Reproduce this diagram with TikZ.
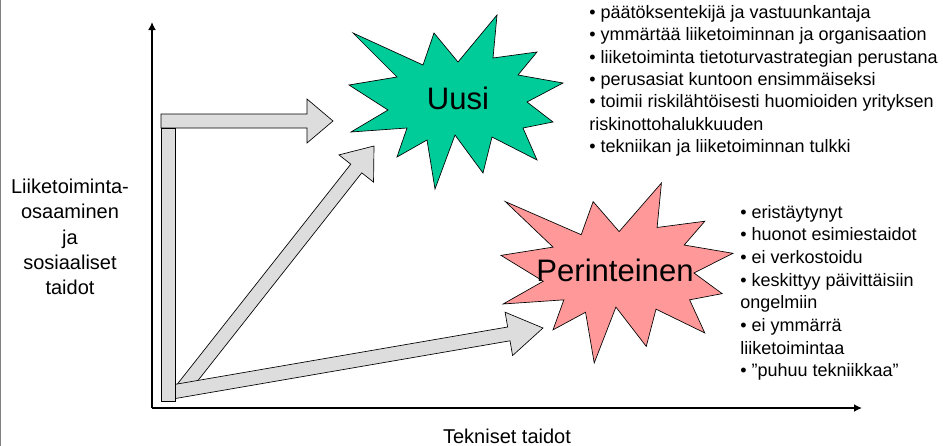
\documentclass[tikz,border=0pt]{standalone}
\usepackage{fontspec}
\setmainfont{Liberation Sans}
\usetikzlibrary{arrows.meta,calc}

\definecolor{uusigreen}{RGB}{0,204,153}
\definecolor{oldpink}{RGB}{255,153,153}
\definecolor{arrowgray}{RGB}{221,221,221}

% block arrow: name, tail, tip, head length
\newcommand{\blockarrow}[4]{%
	\coordinate (#1-base) at ($(#3)!#4!(#2)$);
	\filldraw[blockarrow] ($(#2)!5.25pt!90:(#3)$) -- ($(#1-base)!5.25pt!90:(#3)$)
	-- ($(#1-base)!16.5pt!90:(#3)$) -- (#3) -- ($(#1-base)!16.5pt!-90:(#3)$)
	-- ($(#1-base)!5.25pt!-90:(#3)$) -- ($(#2)!5.25pt!-90:(#3)$) -- cycle;}

% explosion outline, 214 x 174 box
\newcommand{\explosion}{(4,18) -- (74,50) -- (85,18) -- (109,47) -- (148,0) -- (144,43)
	-- (188,37) -- (169,60) -- (214,68) -- (178,87) -- (204,107) -- (174,113)
	-- (188,145) -- (143,122) -- (134,158) -- (106,120) -- (86,174) -- (78,125)
	-- (48,142) -- (58,113) -- (2,117) -- (39,95) -- (0,70) -- (48,62) -- cycle}

\begin{document}
\begin{tikzpicture}[x=0.75pt, y=-0.75pt,
	blockarrow/.style={fill=arrowgray, draw=black, line width=0.5pt, line join=miter},
	axis/.style={line width=1.5pt, -{Latex[length=6pt, width=6pt]}},
	star/.style={draw=black, line width=0.5pt},
	list/.style={align=left, anchor=north west, inner sep=0pt},
	every node/.style={text=black}
	]
	\useasboundingbox (0,0) rectangle (943,446);
	\draw[gray, line width=1.1pt] (0.7,0) -- (0.7,446);
	
	% Coordinates
	\coordinate (origin) at (152,408);
	\coordinate (ytop) at (152,22);
	\coordinate (xend) at (862,408);
	
	% Axes
	\draw[axis] (origin) -- (ytop);
	\draw[axis] (origin) -- (xend);
	
	% Arrows from the corner
	\coordinate (diag-tail) at (180,392);
	\coordinate (diag-tip) at (374,146);
	\blockarrow{diag}{diag-tail}{diag-tip}{21.5pt}
	
	\coordinate (low-tail) at (172,392);
	\coordinate (low-tip) at (543,328);
	\blockarrow{low}{low-tail}{low-tip}{26pt}
	
	\coordinate (top-tail) at (161,121);
	\coordinate (top-tip) at (333,121);
	\blockarrow{top}{top-tail}{top-tip}{19.5pt}
	\filldraw[blockarrow] (161,128) rectangle (175,401);
	
	% Stars
	\begin{scope}[shift={(349,15)}]
		\filldraw[star, fill=uusigreen] \explosion;
	\end{scope}
	\begin{scope}[shift={(501,183)}, xscale=1.084, yscale=1.034]
		\filldraw[star, fill=oldpink] \explosion;
	\end{scope}
	\node[font=\fontsize{23.3}{27}\selectfont] (uusi) at (458,98) {Uusi};
	\node[font=\fontsize{23.3}{27}\selectfont] (perinteinen) at (615,270) {Perinteinen};
	
	% Lists
	\node[list, font=\fontsize{13.5}{16.8}\selectfont] (uusi-list) at (589,5)
	{• päätöksentekijä ja vastuunkantaja\\
		• ymmärtää liiketoiminnan ja organisaation\\
		• liiketoiminta tietoturvastrategian perustana\\
		• perusasiat kuntoon ensimmäiseksi\\
		• toimii riskilähtöisesti huomioiden yrityksen\\
		riskinottohalukkuuden\\
		• tekniikan ja liiketoiminnan tulkki};
	\node[list, font=\fontsize{13.5}{17}\selectfont] (old-list) at (740,205)
	{• eristäytynyt\\
		• huonot esimiestaidot\\
		• ei verkostoidu\\
		• keskittyy päivittäisiin\\
		ongelmiin\\
		• ei ymmärrä\\
		liiketoimintaa\\
		• ”puhuu tekniikkaa”};
	
	% Axis labels
	\node[align=center, font=\fontsize{15}{19}\selectfont] (ylabel) at (70,237)
	{Liiketoiminta-\\osaaminen\\ja\\sosiaaliset\\taidot};
	\node[font=\fontsize{15}{18}\selectfont] (xlabel) at (507,436) {Tekniset taidot};
	
\end{tikzpicture}
\end{document}
